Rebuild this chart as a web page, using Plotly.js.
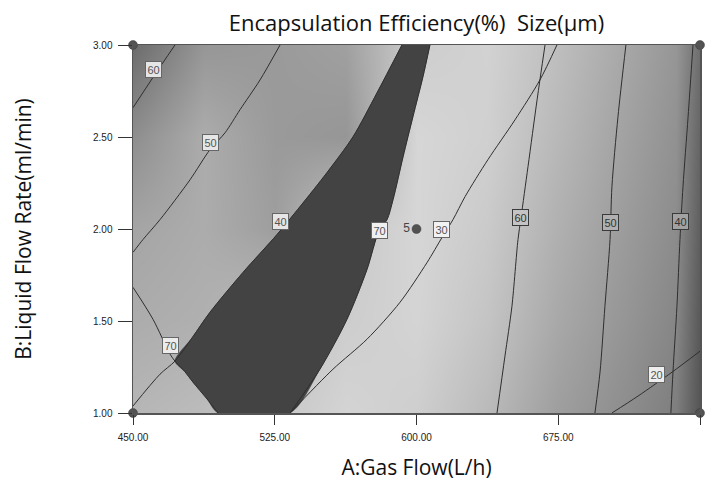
<!DOCTYPE html>
<html>
<head>
<meta charset="utf-8">
<script src="https://cdn.plot.ly/plotly-3.0.1.min.js"></script>
<style>html,body{margin:0;padding:0;background:#fff;}#chart{width:715px;height:481px;}</style>
</head>
<body>
<div id="chart"></div>
<script>
// ---------- data ----------
// background shading (gray level 0-255) on a coarse grid
var shadeX = [450, 487.5, 525, 562.5, 600, 637.5, 675, 712.5, 737.5, 750];
var shadeY = [1.0, 1.5, 2.0, 2.5, 3.0];
var shadeZ = [
  [182, 188, 200, 212, 206, 186, 158, 140, 126, 84],
  [172, 176, 190, 205, 212, 196, 168, 148, 134, 88],
  [165, 172, 158, 200, 214, 202, 176, 154, 140, 94],
  [142, 172, 154, 150, 214, 208, 184, 160, 145, 100],
  [108, 150, 154, 160, 205, 210, 190, 166, 150, 110]
];

// Size (um) contour lines
var size60X = [450, 461.1, 472.2];
var size60Y = [2.659, 2.832, 3.0];
var size50X = [527.8, 517.2, 506.6, 498.7, 490.7, 480.2, 464.3, 455.3, 450];
var size50Y = [3.0, 2.810, 2.648, 2.523, 2.431, 2.268, 2.051, 1.943, 1.873];
var size40X = [592.3, 579.1, 566.4, 552.6, 538.4, 526.2, 508.2, 490.7, 481.5, 472.2, 464.3, 450];
var size40Y = [3.0, 2.740, 2.501, 2.306, 2.122, 1.970, 1.764, 1.547, 1.412, 1.282, 1.211, 1.038];
var size30X = [533.1, 555.8, 573.8, 591.3, 605.6, 613.5, 619.3, 625.7, 637.8, 652.1, 665.3, 674.3];
var size30Y = [1.0, 1.238, 1.401, 1.602, 1.818, 1.954, 2.051, 2.176, 2.377, 2.593, 2.810, 3.0];
var size20X = [703.4, 717.2, 735.2, 750];
var size20Y = [1.0, 1.092, 1.222, 1.336];

// Encapsulation efficiency (%) contour lines
var ee70aX = [450, 460.6, 469.6, 472.2, 477.4, 481.7, 489.2, 495.0];
var ee70aY = [1.683, 1.509, 1.320, 1.282, 1.225, 1.168, 1.076, 1.0];
var ee70bX = [533.1, 548.9, 563.2, 573.8, 580.2, 584.4, 587.6, 592.9, 598.1, 603.4, 607.1];
var ee70bY = [1.0, 1.238, 1.509, 1.780, 1.992, 2.051, 2.160, 2.393, 2.610, 2.827, 3.0];
var ee60X = [668.0, 663.8, 659.0, 655.3, 653.7, 650.5, 646.8, 642.6];
var ee60Y = [3.0, 2.702, 2.339, 2.062, 1.943, 1.580, 1.309, 1.0];
var ee50X = [710.8, 706.6, 703.4, 702.4, 699.7, 697.1, 694.4];
var ee50Y = [3.0, 2.610, 2.230, 1.943, 1.580, 1.222, 1.0];
var ee40X = [746.3, 743.7, 741.0, 739.4, 737.8, 735.7, 734.6];
var ee40Y = [3.0, 2.610, 2.230, 1.943, 1.580, 1.222, 1.0];

// contour labels (first five: Size, last five: EE)
var labelText = ['60', '50', '40', '30', '20', '70', '70', '60', '50', '40'];
var labelX = [460.8, 491.2, 528.3, 613.3, 727.2, 469.6, 580.4, 655.2, 702.4, 739.7];
var labelY = [2.867, 2.468, 2.041, 1.997, 1.211, 1.366, 1.990, 2.062, 2.035, 2.041];

// design points
var designX = [450, 750, 450, 750, 600];
var designY = [3.0, 3.0, 1.0, 1.0, 2.0];
var designText = ['', '', '', '', '5'];

// axis ticks
var xTicks = [450, 525, 600, 675, 750];
var xTickText = ['450.00', '525.00', '600.00', '675.00', '750.00'];
var yTicks = [1.0, 1.5, 2.0, 2.5, 3.0];
var yTickText = ['1.00', '1.50', '2.00', '2.50', '3.00'];

// ---------- build ----------
// feasible (overlay) region: right of Size=40, inside EE=70
var regionX = size40X.slice(0, 10).concat(ee70aX.slice(4)).concat(ee70bX);
var regionY = size40Y.slice(0, 10).concat(ee70aY.slice(4)).concat(ee70bY);

var SMOOTH = 0.8;
function contourLine(x, y) {
  return {type: 'scatter', mode: 'lines', x: x, y: y,
          line: {color: '#2e2e2e', width: 1, shape: 'spline', smoothing: SMOOTH},
          hoverinfo: 'skip', showlegend: false};
}

var tickFont = {family: 'Liberation Sans, Arial, sans-serif', size: 10, color: '#222'};
var titleFont = {family: 'Open Sans, sans-serif', size: 21, color: '#111'};

var traces = [
  {type: 'heatmap', x: shadeX, y: shadeY, z: shadeZ, zsmooth: 'best',
   zmin: 0, zmax: 255, showscale: false, hoverinfo: 'skip',
   colorscale: [[0, 'rgb(0,0,0)'], [1, 'rgb(255,255,255)']]},
  {type: 'scatter', mode: 'lines', x: regionX, y: regionY, fill: 'toself',
   fillcolor: '#434343', line: {color: '#434343', width: 0.5, shape: 'spline', smoothing: SMOOTH},
   hoverinfo: 'skip', showlegend: false},
  contourLine(size60X, size60Y),
  contourLine(size50X, size50Y),
  contourLine(size40X, size40Y),
  contourLine(size30X, size30Y),
  contourLine(size20X, size20Y),
  contourLine(ee70aX, ee70aY),
  contourLine(ee70bX, ee70bY),
  contourLine(ee60X, ee60Y),
  contourLine(ee50X, ee50Y),
  contourLine(ee40X, ee40Y),
  {type: 'scatter', mode: 'markers+text', x: designX, y: designY, text: designText,
   textposition: 'middle left', cliponaxis: false,
   textfont: {family: 'Liberation Sans, Arial, sans-serif', size: 12, color: '#444'},
   marker: {color: '#525252', size: 9, line: {color: '#3a3a3a', width: 0.5}},
   hoverinfo: 'skip', showlegend: false}
];

// label box fills: light for most, background-like gray for the right-hand EE labels
var labelFill = ['#e6e6e6', '#e6e6e6', '#e6e6e6', '#f2f2f2', '#eeeeee',
                 '#ececec', '#f0f0f0', '#c4c4c4', '#b0b0b0', '#a2a2a2'];
var annotations = labelText.map(function (t, i) {
  var dark = i >= 7;
  return {x: labelX[i], y: labelY[i], xref: 'x', yref: 'y', text: t, showarrow: false,
          font: {family: 'Liberation Sans, Arial, sans-serif', size: 11, color: dark ? '#333' : '#555'},
          bgcolor: labelFill[i],
          bordercolor: dark ? '#3a3a3a' : '#666', borderwidth: 1, borderpad: 1.5};
});

var layout = {
  width: 715, height: 481,
  margin: {l: 133, r: 15, t: 45, b: 68},
  paper_bgcolor: '#ffffff', plot_bgcolor: '#ffffff',
  showlegend: false,
  title: {text: 'Encapsulation Efficiency(%)\u00a0 Size(\u03bcm)',
          font: {family: 'Open Sans, sans-serif', size: 22, color: '#111'},
          x: 0.5, xref: 'paper', xanchor: 'center',
          y: 1 - 23 / 481, yref: 'container', yanchor: 'middle'},
  xaxis: {range: [450, 750], tickvals: xTicks, ticktext: xTickText,
          ticks: 'outside', ticklen: 10, tickcolor: '#333', tickwidth: 1,
          tickfont: tickFont, ticklabelstandoff: 4,
          showgrid: false, zeroline: false, showline: true, mirror: true,
          linecolor: '#555', linewidth: 1.5,
          title: {text: 'A:Gas Flow(L/h)', font: titleFont, standoff: 20}},
  yaxis: {range: [1, 3], tickvals: yTicks, ticktext: yTickText,
          ticks: 'outside', ticklen: 14, tickcolor: '#333', tickwidth: 1,
          tickfont: tickFont, ticklabelstandoff: 3,
          showgrid: false, zeroline: false, showline: true, mirror: true,
          linecolor: '#555', linewidth: 1.5,
          title: {text: 'B:Liquid Flow Rate(ml/min)', font: titleFont, standoff: 55}},
  annotations: annotations
};

Plotly.newPlot('chart', traces, layout, {displayModeBar: false, staticPlot: true});
</script>
</body>
</html>
